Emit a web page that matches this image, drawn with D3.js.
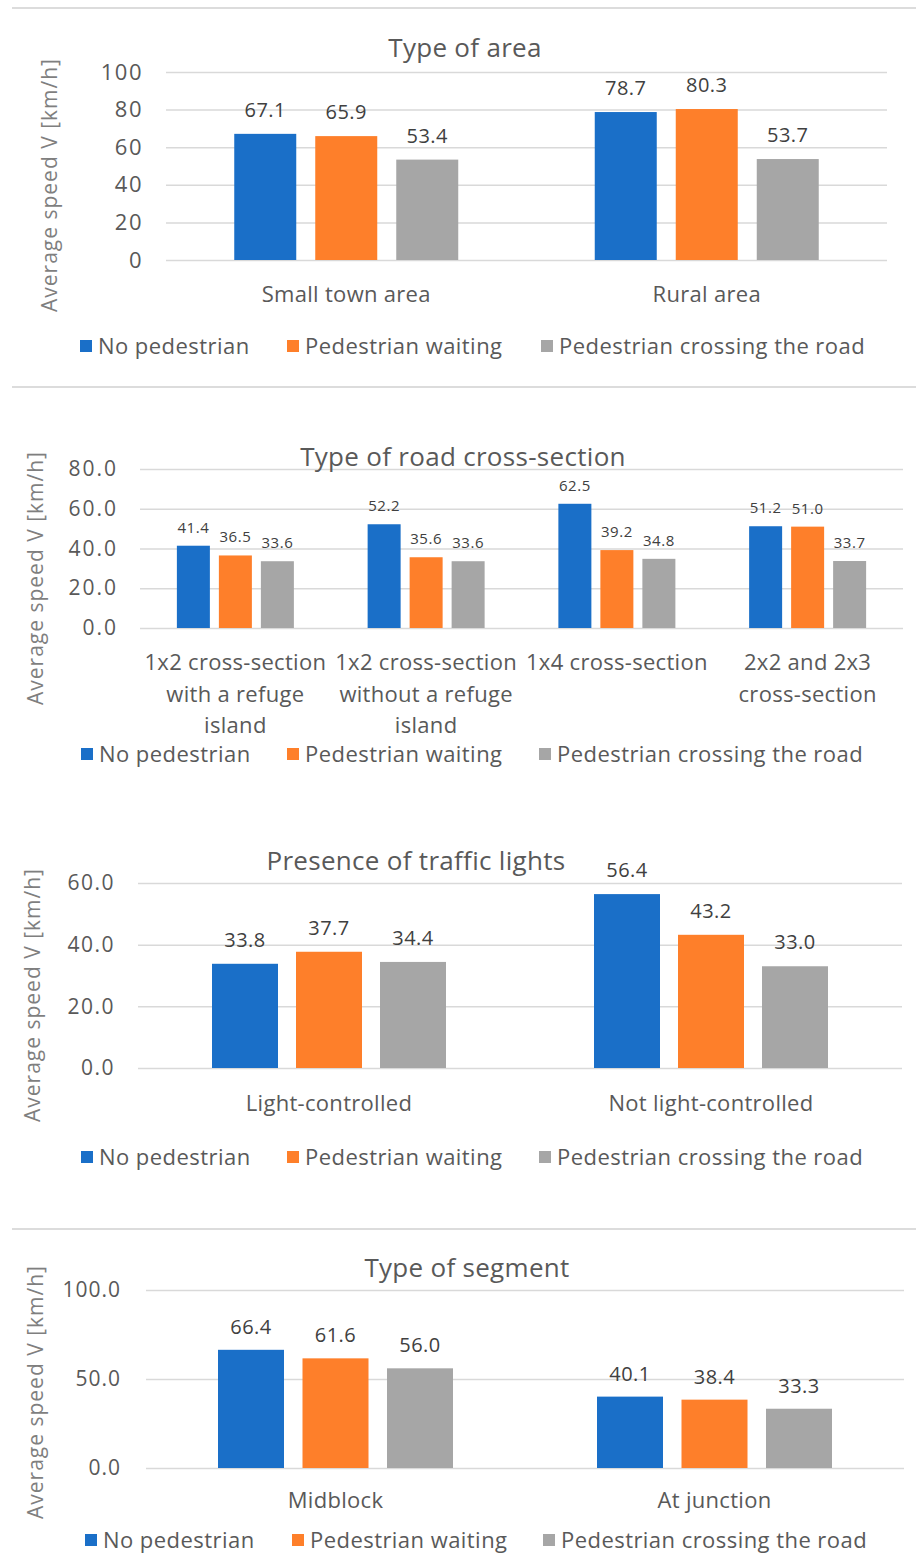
<!DOCTYPE html>
<html>
<head>
<meta charset="utf-8">
<script src="https://cdn.jsdelivr.net/npm/d3@7"></script>
<style>
  body { margin: 0; background: #fff; }
  svg { display: block; font-family: "Open Sans", sans-serif; }
</style>
</head>
<body>
<svg width="916" height="1555"></svg>
<script>
var series = ["No pedestrian", "Pedestrian waiting", "Pedestrian crossing the road"];
var colors = ["#1a6fc8", "#fe7f2a", "#a6a6a6"];

var areaCats = ["Small town area", "Rural area"];
var areaNoPed = [67.1, 78.7];
var areaWaiting = [65.9, 80.3];
var areaCrossing = [53.4, 53.7];
var areaTicks = [0, 20, 40, 60, 80, 100];

var roadCats = [["1x2 cross-section", "with a refuge", "island"],
                ["1x2 cross-section", "without a refuge", "island"],
                ["1x4 cross-section"],
                ["2x2 and 2x3", "cross-section"]];
var roadNoPed = [41.4, 52.2, 62.5, 51.2];
var roadWaiting = [36.5, 35.6, 39.2, 51.0];
var roadCrossing = [33.6, 33.6, 34.8, 33.7];
var roadTicks = [0, 20, 40, 60, 80];

var lightCats = ["Light-controlled", "Not light-controlled"];
var lightNoPed = [33.8, 56.4];
var lightWaiting = [37.7, 43.2];
var lightCrossing = [34.4, 33.0];
var lightTicks = [0, 20, 40, 60];

var segCats = ["Midblock", "At junction"];
var segNoPed = [66.4, 40.1];
var segWaiting = [61.6, 38.4];
var segCrossing = [56.0, 33.3];
var segTicks = [0, 50, 100];

var svg = d3.select("svg");

// thin separators between the figure parts
[8, 387, 1229].forEach(function(y) {
  svg.append("line")
     .attr("x1", 12).attr("x2", 916)
     .attr("y1", y).attr("y2", y)
     .style("stroke", "#dcdcdc")
     .style("stroke-width", 2);
});

function drawPanel(p) {
  var g = svg.append("g");
  var cats = p.cats.map(function(c, i) { return "c" + i; });

  var y = d3.scaleLinear().domain([0, p.max]).range([p.y0, p.y1]);
  var x0 = d3.scaleBand().domain(cats).range([p.xl, p.xr]);
  var span = 3 * p.bw + 2 * p.gap;
  var x1 = d3.scaleBand().domain(series)
             .range([-span / 2, span / 2])
             .paddingInner(p.gap / (p.bw + p.gap));

  // gridlines + tick labels
  var axis = d3.axisLeft(y).tickValues(p.ticks)
               .tickSize(-(p.xr - p.xl))
               .tickFormat(d3.format(p.fmt));
  var ax = g.append("g")
            .attr("transform", "translate(" + p.xl + ",0)")
            .call(axis);
  ax.select(".domain").remove();
  ax.selectAll(".tick line").style("stroke", "#d9d9d9").style("stroke-width", 1.5);
  ax.selectAll(".tick text")
    .attr("x", p.tickX - p.xl)
    .style("font-size", p.tickSize + "px")
    .style("letter-spacing", p.tickSp + "px")
    .style("fill", "#595959")
    .style("font-family", "Open Sans, sans-serif");

  var vals = [p.a, p.b, p.c];
  var flat = [];
  cats.forEach(function(c, i) {
    series.forEach(function(s, j) {
      flat.push({cat: c, s: s, j: j, v: vals[j][i]});
    });
  });

  g.selectAll("rect.bar")
   .data(flat)
   .enter().append("rect")
   .attr("class", "bar")
   .attr("x", function(d) { return x0(d.cat) + x0.bandwidth() / 2 + x1(d.s); })
   .attr("width", x1.bandwidth())
   .attr("y", function(d) { return y(d.v); })
   .attr("height", function(d) { return y(0) - y(d.v); })
   .style("fill", function(d) { return colors[d.j]; });

  g.selectAll("text.val")
   .data(flat)
   .enter().append("text")
   .attr("class", "val")
   .attr("x", function(d) { return x0(d.cat) + x0.bandwidth() / 2 + x1(d.s) + x1.bandwidth() / 2; })
   .attr("y", function(d) { return y(d.v) - p.valGap; })
   .attr("text-anchor", "middle")
   .style("font-size", p.valSize + "px")
   .style("letter-spacing", "0.5px")
   .style("fill", "#404040")
   .text(function(d) { return d.v.toFixed(1); });

  // category labels (may wrap)
  cats.forEach(function(c, i) {
    var lines = [].concat(p.cats[i]);
    var t = g.append("text")
             .attr("text-anchor", "middle")
             .style("font-size", "22px")
             .style("letter-spacing", "0.3px")
             .style("fill", "#595959");
    lines.forEach(function(l, k) {
      t.append("tspan")
       .attr("x", x0(c) + x0.bandwidth() / 2)
       .attr("y", p.catY + k * 31.5)
       .text(l);
    });
  });

  g.append("text")
   .attr("x", p.titleX)
   .attr("y", p.titleY)
   .attr("text-anchor", "middle")
   .style("font-size", "26px")
   .style("letter-spacing", "0.3px")
   .style("fill", "#595959")
   .text(p.title);

  g.append("text")
   .attr("transform", "translate(" + p.labX + "," + p.labY + ") rotate(-90)")
   .attr("text-anchor", "middle")
   .style("font-size", "21px")
   .style("letter-spacing", "1px")
   .style("fill", "#7f7f7f")
   .text("Average speed V [km/h]");

  // legend
  series.forEach(function(s, j) {
    g.append("rect")
     .attr("x", p.legX[j])
     .attr("y", p.legY - 6)
     .attr("width", 12).attr("height", 12)
     .style("fill", colors[j]);
    g.append("text")
     .attr("x", p.legX[j] + 18)
     .attr("y", p.legY + 8)
     .style("font-size", "22px")
     .style("letter-spacing", "0.45px")
     .style("fill", "#595959")
     .text(s);
  });
}

drawPanel({
  title: "Type of area", titleX: 465, titleY: 57,
  cats: areaCats, a: areaNoPed, b: areaWaiting, c: areaCrossing,
  ticks: areaTicks, max: 100, fmt: "d",
  xl: 166, xr: 887, y0: 260, y1: 72, bw: 62, gap: 19,
  tickX: 143, tickSize: 22, tickSp: 1.5, valGap: 17, valSize: 20, catY: 302,
  labX: 57, labY: 185, legX: [80, 287, 541], legY: 346
});

drawPanel({
  title: "Type of road cross-section", titleX: 463, titleY: 466,
  cats: roadCats, a: roadNoPed, b: roadWaiting, c: roadCrossing,
  ticks: roadTicks, max: 80, fmt: ".1f",
  xl: 140, xr: 903, y0: 628, y1: 469, bw: 33, gap: 9,
  tickX: 118, tickSize: 21, tickSp: 2, valGap: 13, valSize: 15, catY: 670,
  labX: 43, labY: 578, legX: [81, 287, 539], legY: 754
});

drawPanel({
  title: "Presence of traffic lights", titleX: 416, titleY: 870,
  cats: lightCats, a: lightNoPed, b: lightWaiting, c: lightCrossing,
  ticks: lightTicks, max: 60, fmt: ".1f",
  xl: 138, xr: 902, y0: 1068, y1: 883, bw: 66, gap: 18,
  tickX: 115, tickSize: 21, tickSp: 1.5, valGap: 17, valSize: 20, catY: 1111,
  labX: 40, labY: 995, legX: [81, 287, 539], legY: 1157
});

drawPanel({
  title: "Type of segment", titleX: 467, titleY: 1277,
  cats: segCats, a: segNoPed, b: segWaiting, c: segCrossing,
  ticks: segTicks, max: 100, fmt: ".1f",
  xl: 146, xr: 904, y0: 1468, y1: 1290, bw: 66, gap: 18.5,
  tickX: 121, tickSize: 21, tickSp: 1, valGap: 16, valSize: 20, catY: 1508,
  labX: 43, labY: 1392, legX: [85, 292, 543], legY: 1540
});
</script>
</body>
</html>
